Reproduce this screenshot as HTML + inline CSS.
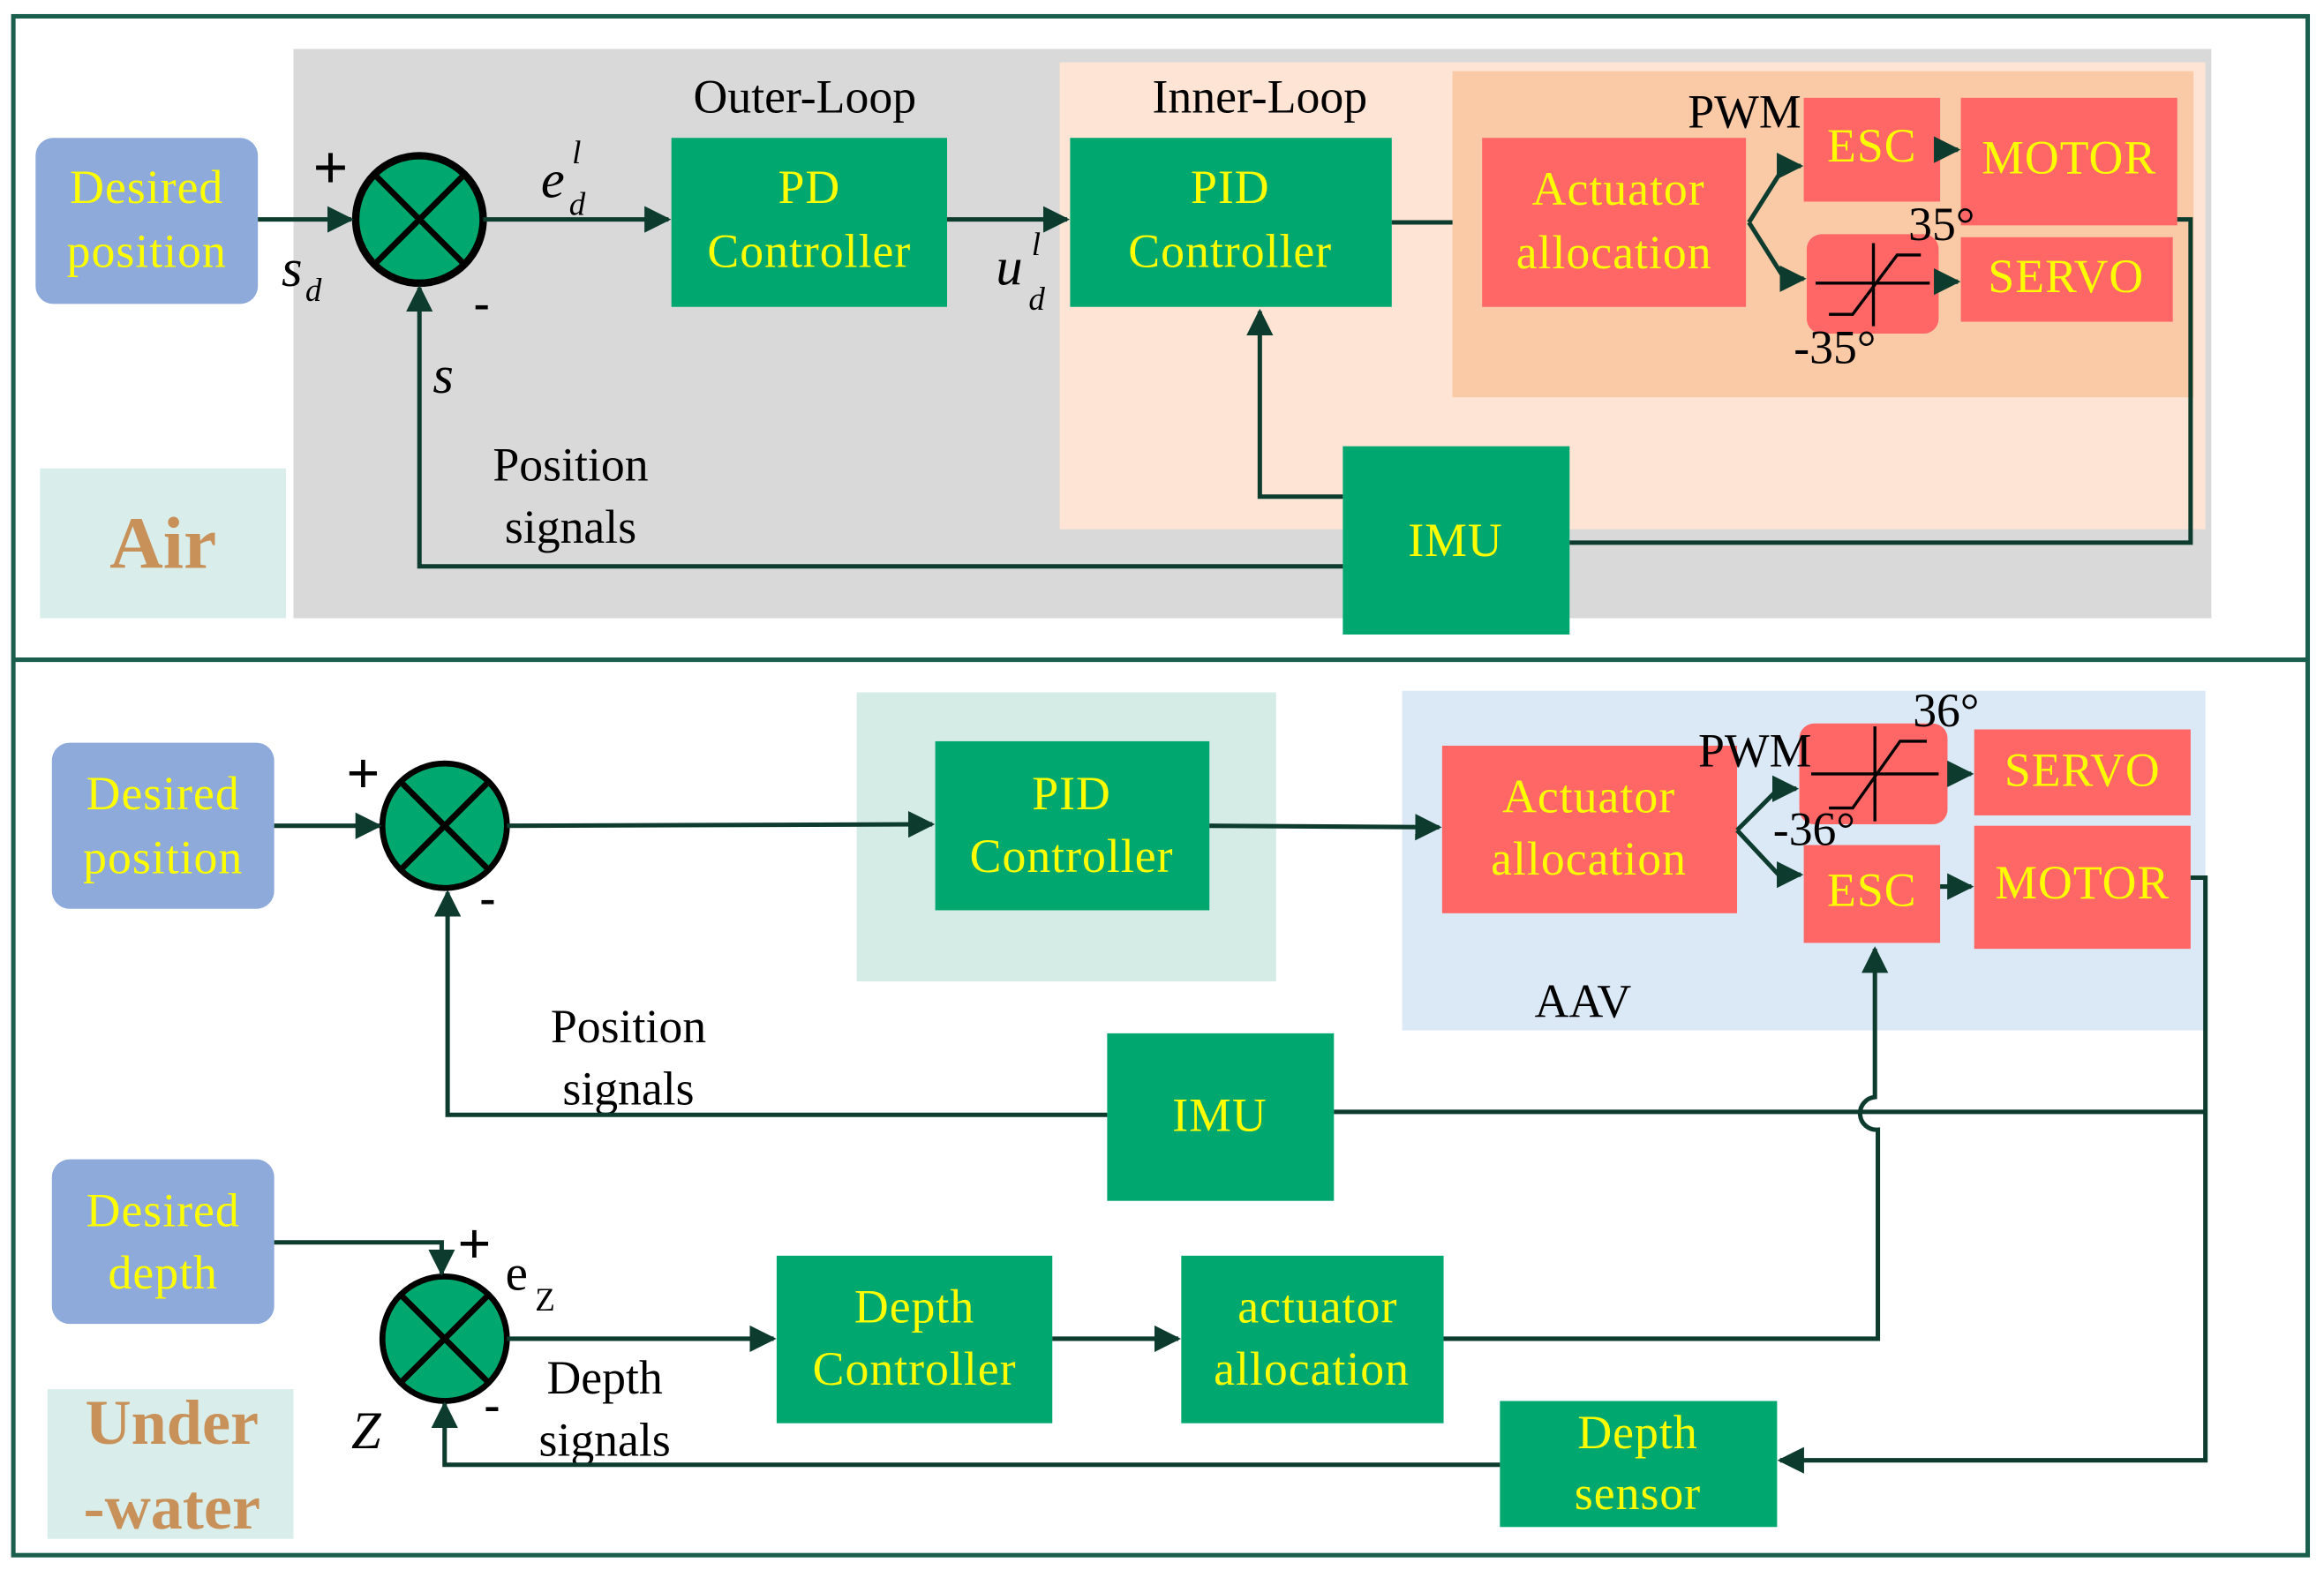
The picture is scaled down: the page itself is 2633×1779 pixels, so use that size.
<!DOCTYPE html>
<html><head><meta charset="utf-8"><style>
html,body{margin:0;padding:0;background:#fff;}
svg{display:block;}
text{font-family:"Liberation Serif",serif;}
.y{fill:#ffff00;font-size:32px;text-anchor:middle;letter-spacing:0.6px;}
.k{fill:#000;font-size:32px;text-anchor:middle;}
.g{fill:#00a870;}
.r{fill:#ff6666;}
.ln{stroke:#0d3b2e;stroke-width:3;fill:none;}
</style></head><body>
<svg width="2633" height="1779" viewBox="0 0 1568 1059" preserveAspectRatio="none" xmlns="http://www.w3.org/2000/svg">
<defs>
<marker id="a" viewBox="0 0 10 10" refX="9" refY="5" markerWidth="6" markerHeight="6" orient="auto"><path d="M0,0L10,5L0,10z" fill="#0d3b2e"/></marker>
</defs>
<rect x="0" y="0" width="1568" height="1059" fill="#fff"/>
<!-- TOP -->
<rect x="198" y="33" width="1294" height="384" fill="#d9d9d9"/>
<rect x="715" y="42" width="773" height="315" fill="#fde4d4"/>
<rect x="980" y="48" width="500" height="220" fill="#fac9a6"/>
<rect x="24" y="93" width="150" height="112" rx="12" fill="#8eaadb"/>
<text class="y" x="99" y="137">Desired</text><text class="y" x="99" y="180">position</text>
<rect x="27" y="316" width="166" height="101" fill="#d9eeea"/>
<text x="110" y="383" font-size="50" font-weight="bold" fill="#c8915a" text-anchor="middle">Air</text>
<text class="k" x="543" y="76" font-size="37">Outer-Loop</text>
<text class="k" x="850" y="76" font-size="37">Inner-Loop</text>
<rect class="g" x="453" y="93" width="186" height="114"/>
<text class="y" x="546" y="137">PD</text><text class="y" x="546" y="180">Controller</text>
<rect class="g" x="722" y="93" width="217" height="114"/>
<text class="y" x="830" y="137">PID</text><text class="y" x="830" y="180">Controller</text>
<rect class="r" x="1000" y="93" width="178" height="114"/>
<text class="y" x="1092" y="138">Actuator</text><text class="y" x="1089" y="181">allocation</text>
<rect class="r" x="1217" y="66" width="92" height="70"/>
<text class="y" x="1263" y="109" font-size="28">ESC</text>
<rect class="r" x="1323" y="66" width="146" height="86"/>
<text class="y" x="1396" y="117" font-size="28">MOTOR</text>
<rect class="r" x="1219" y="158" width="89" height="67" rx="10"/>
<path d="M1225,191H1302M1264,164V220M1234,212H1250L1280,172H1296" stroke="#000" stroke-width="2" fill="none"/>
<rect class="r" x="1323" y="160" width="143" height="57"/>
<text class="y" x="1394" y="197" font-size="28">SERVO</text>
<text class="k" x="1177" y="86" font-size="25">PWM</text>
<text class="k" x="1310" y="162" font-size="25">35°</text>
<text class="k" x="1238" y="245" font-size="25">-35°</text>
<rect class="g" x="906" y="301" width="153" height="127"/>
<text class="y" x="982" y="375">IMU</text>
<circle cx="283" cy="148" r="43" fill="#00a870" stroke="#000" stroke-width="5"/>
<path d="M253,118L313,178M313,118L253,178" stroke="#000" stroke-width="4"/>
<text x="223" y="127" font-size="42" font-weight="bold" fill="#000" text-anchor="middle">+</text>
<text x="325" y="215" font-size="32" font-weight="bold" fill="#000" text-anchor="middle">-</text>
<text x="190" y="193" font-size="36" font-style="italic" fill="#000">s</text><text x="206" y="203" font-size="22" font-style="italic">d</text>
<text x="365" y="133" font-size="36" font-style="italic">e</text><text x="386" y="110" font-size="22" font-style="italic">l</text><text x="384" y="145" font-size="22" font-style="italic">d</text>
<text x="672" y="192" font-size="36" font-style="italic">u</text><text x="696" y="172" font-size="22" font-style="italic">l</text><text x="694" y="209" font-size="22" font-style="italic">d</text>
<text x="292" y="265" font-size="36" font-style="italic">s</text>
<text class="k" x="385" y="324">Position</text><text class="k" x="385" y="366">signals</text>
<path class="ln" d="M174,148H237" marker-end="url(#a)"/>
<path class="ln" d="M326,148H451" marker-end="url(#a)"/>
<path class="ln" d="M639,148H720" marker-end="url(#a)"/>
<path class="ln" d="M939,150H980"/>
<path class="ln" d="M1180,150L1204,112H1215" marker-end="url(#a)"/>
<path class="ln" d="M1180,150L1204,188H1217" marker-end="url(#a)"/>
<path class="ln" d="M1309,101H1321" marker-end="url(#a)"/>
<path class="ln" d="M1308,190H1321" marker-end="url(#a)"/>
<path class="ln" d="M1469,148H1478V366H1059"/>
<path class="ln" d="M906,335H850V210" marker-end="url(#a)"/>
<path class="ln" d="M906,382H283V194" marker-end="url(#a)"/>
<!-- BOTTOM -->
<rect x="578" y="467" width="283" height="195" fill="#d5ece6"/>
<rect x="946" y="466" width="542" height="229" fill="#dbe8f5"/>
<rect x="35" y="501" width="150" height="112" rx="12" fill="#8eaadb"/>
<text class="y" x="110" y="546">Desired</text><text class="y" x="110" y="589">position</text>
<rect x="35" y="782" width="150" height="111" rx="12" fill="#8eaadb"/>
<text class="y" x="110" y="827">Desired</text><text class="y" x="110" y="869">depth</text>
<rect x="32" y="937" width="166" height="101" fill="#d9eeea"/>
<text x="116" y="974" font-size="43" font-weight="bold" fill="#c8915a" text-anchor="middle">Under</text>
<text x="116" y="1031" font-size="43" font-weight="bold" fill="#c8915a" text-anchor="middle">-water</text>
<rect class="g" x="631" y="500" width="185" height="114"/>
<text class="y" x="723" y="546">PID</text><text class="y" x="723" y="588">Controller</text>
<rect class="r" x="973" y="503" width="199" height="113"/>
<text class="y" x="1072" y="548">Actuator</text><text class="y" x="1072" y="590">allocation</text>
<rect class="r" x="1214" y="488" width="100" height="68" rx="10"/>
<path d="M1222,522H1308M1265,490V554M1234,545H1250L1282,500H1300" stroke="#000" stroke-width="2" fill="none"/>
<rect class="r" x="1332" y="492" width="146" height="58"/>
<text class="y" x="1405" y="530" font-size="28">SERVO</text>
<rect class="r" x="1217" y="570" width="92" height="66"/>
<text class="y" x="1263" y="611" font-size="28">ESC</text>
<rect class="r" x="1332" y="557" width="146" height="83"/>
<text class="y" x="1405" y="606" font-size="28">MOTOR</text>
<text class="k" x="1184" y="517" font-size="25">PWM</text>
<text class="k" x="1313" y="490" font-size="25">36°</text>
<text class="k" x="1224" y="570" font-size="25">-36°</text>
<text class="k" x="1068" y="686" font-size="36">AAV</text>
<rect class="g" x="747" y="697" width="153" height="113"/>
<text class="y" x="823" y="763">IMU</text>
<rect class="g" x="524" y="847" width="186" height="113"/>
<text class="y" x="617" y="892">Depth</text><text class="y" x="617" y="934">Controller</text>
<rect class="g" x="797" y="847" width="177" height="113"/>
<text class="y" x="889" y="892">actuator</text><text class="y" x="885" y="934">allocation</text>
<rect class="g" x="1012" y="945" width="187" height="85"/>
<text class="y" x="1105" y="977">Depth</text><text class="y" x="1105" y="1018">sensor</text>
<circle cx="300" cy="557" r="42" fill="#00a870" stroke="#000" stroke-width="4"/>
<path d="M271,528L329,586M329,528L271,586" stroke="#000" stroke-width="4"/>
<circle cx="300" cy="903" r="42" fill="#00a870" stroke="#000" stroke-width="4"/>
<path d="M271,874L329,932M329,874L271,932" stroke="#000" stroke-width="4"/>
<text x="245" y="535" font-size="40" font-weight="bold" text-anchor="middle">+</text>
<text x="329" y="616" font-size="32" font-weight="bold" text-anchor="middle">-</text>
<text x="320" y="852" font-size="40" font-weight="bold" text-anchor="middle">+</text>
<text x="332" y="958" font-size="32" font-weight="bold" text-anchor="middle">-</text>
<text x="341" y="870" font-size="34">e</text><text x="361" y="884" font-size="22">Z</text>
<text x="237" y="977" font-size="36" font-style="italic">Z</text>
<text class="k" x="424" y="703">Position</text><text class="k" x="424" y="745">signals</text>
<text class="k" x="408" y="940">Depth</text><text class="k" x="408" y="982">signals</text>
<path class="ln" d="M185,557H256" marker-end="url(#a)"/>
<path class="ln" d="M342,557L629,556" marker-end="url(#a)"/>
<path class="ln" d="M816,557L971,558" marker-end="url(#a)"/>
<path class="ln" d="M1172,560L1200,532H1212" marker-end="url(#a)"/>
<path class="ln" d="M1172,560L1200,590H1215" marker-end="url(#a)"/>
<path class="ln" d="M1314,522H1330" marker-end="url(#a)"/>
<path class="ln" d="M1309,598H1330" marker-end="url(#a)"/>
<path class="ln" d="M1478,592H1488V985H1201" marker-end="url(#a)"/>
<path class="ln" d="M1488,750H900"/>
<path class="ln" d="M974,903H1267V762A10,10 0 0 1 1265,740V640" marker-end="url(#a)"/>
<path class="ln" d="M747,752H302V602" marker-end="url(#a)"/>
<path class="ln" d="M185,838H298V859" marker-end="url(#a)"/>
<path class="ln" d="M342,903H522" marker-end="url(#a)"/>
<path class="ln" d="M710,903H795" marker-end="url(#a)"/>
<path class="ln" d="M1012,988H300V947" marker-end="url(#a)"/>
<!-- border -->
<rect x="9" y="11" width="1548" height="1038" fill="none" stroke="#1a5e4e" stroke-width="3"/>
<line x1="9" y1="445" x2="1557" y2="445" stroke="#1a5e4e" stroke-width="3"/>
</svg>
</body></html>
